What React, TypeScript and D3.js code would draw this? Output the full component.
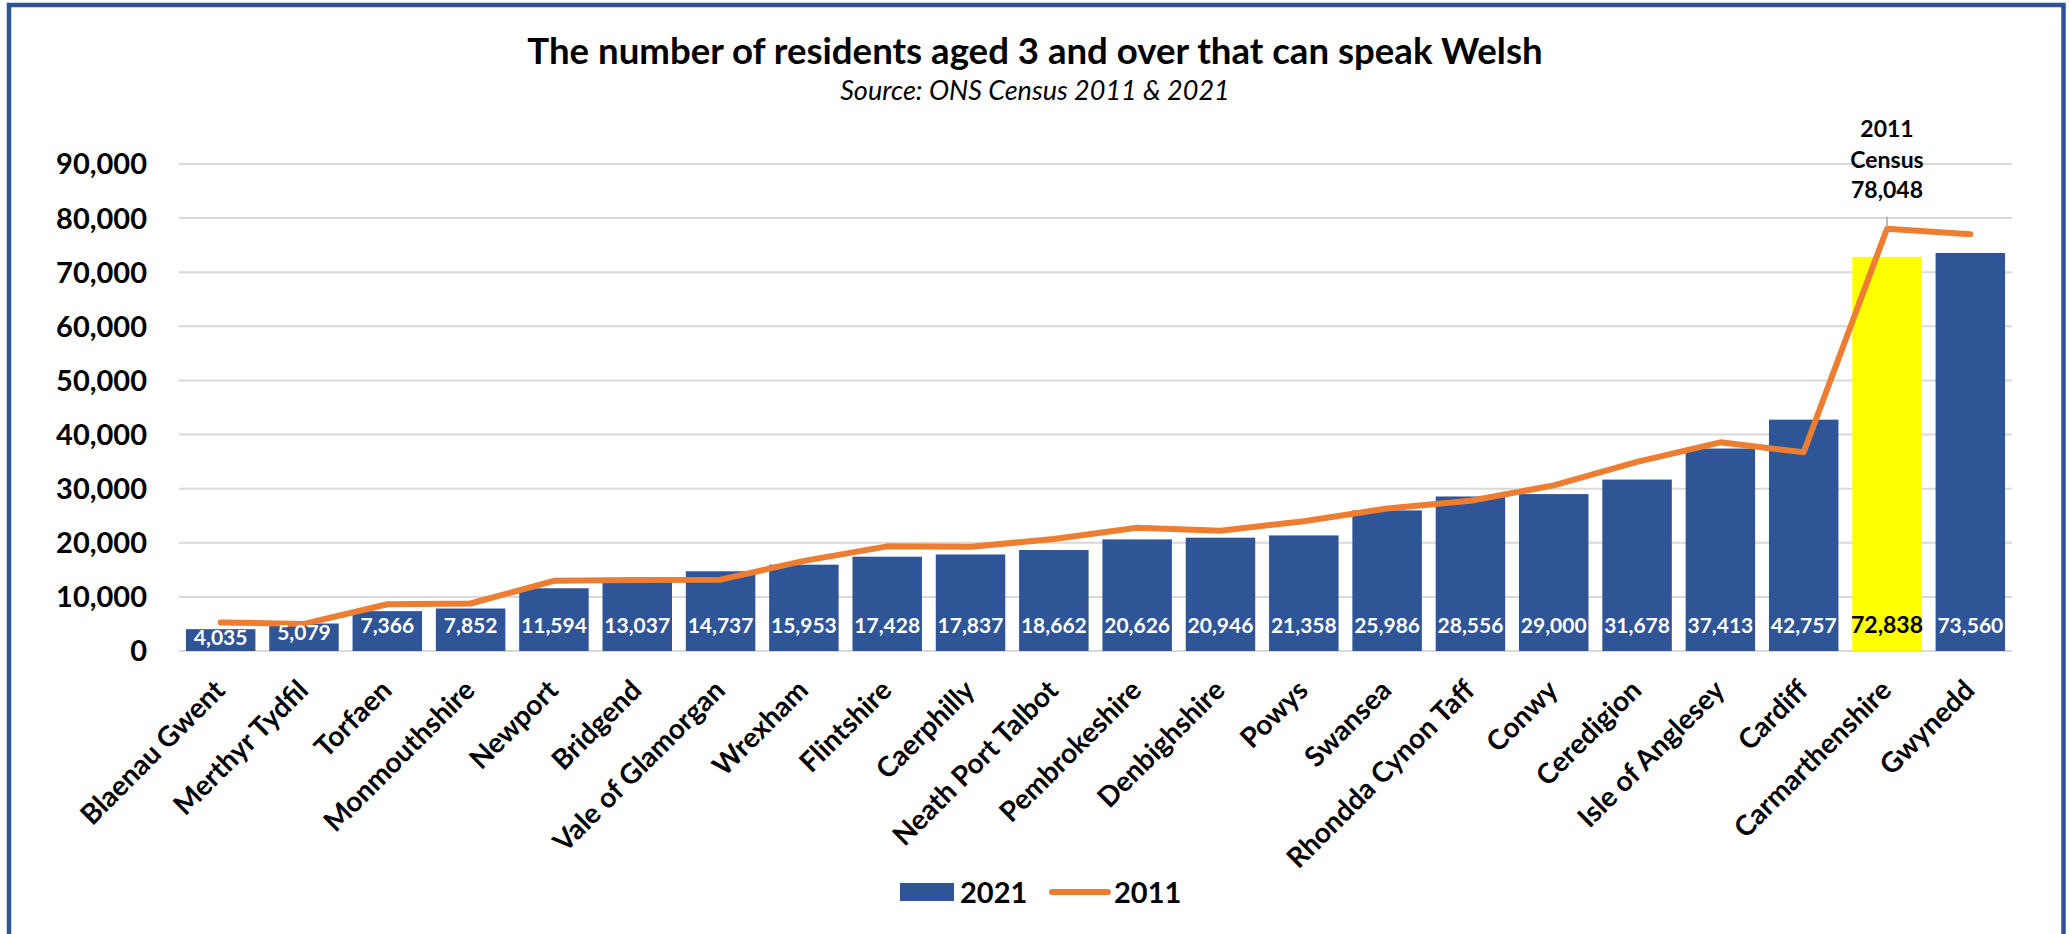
import React, { useEffect } from 'react';
import * as d3 from 'd3';

const categories = [
  'Blaenau Gwent', 'Merthyr Tydfil', 'Torfaen', 'Monmouthshire', 'Newport', 'Bridgend',
  'Vale of Glamorgan', 'Wrexham', 'Flintshire', 'Caerphilly', 'Neath Port Talbot',
  'Pembrokeshire', 'Denbighshire', 'Powys', 'Swansea', 'Rhondda Cynon Taff', 'Conwy',
  'Ceredigion', 'Isle of Anglesey', 'Cardiff', 'Carmarthenshire', 'Gwynedd',
];
const values2021 = [
  4035, 5079, 7366, 7852, 11594, 13037, 14737, 15953, 17428, 17837, 18662,
  20626, 20946, 21358, 25986, 28556, 29000, 31678, 37413, 42757, 72838, 73560,
];
const values2011 = [
  5284, 5008, 8641, 8780, 12978, 13103, 13189, 16659, 19343, 19251, 20698,
  22786, 22236, 23990, 26332, 27779, 30600, 34964, 38568, 36735, 78048, 77000,
];
const yTicks = [0, 10000, 20000, 30000, 40000, 50000, 60000, 70000, 80000, 90000];
const highlightCategory = 'Carmarthenshire';
const annotationLines = ['2011', 'Census', '78,048'];
const titleText = 'The number of residents aged 3 and over that can speak Welsh';
const subtitleText = 'Source: ONS Census 2011 & 2021';
const legendLabels = ['2021', '2011'];

const FONT = "Lato, 'Open Sans', sans-serif";
const BLUE = '#2F5597';
const ORANGE = '#ED7D31';
const YELLOW = '#FFFF00';
const GRID = '#D9D9D9';

export default function App() {
  useEffect(() => {
    document.body.style.margin = '0';
  }, []);
  const W = 2069;
  const H = 934;
  const x = d3.scaleBand<string>().domain(categories).range([179, 2012]).paddingInner(0.166).paddingOuter(0.083);
  const y = d3.scaleLinear().domain([0, 90000]).range([651, 164]);
  const fmt = d3.format(',');
  const bw = x.bandwidth();
  const cx = (c: string) => (x(c) as number) + bw / 2;
  const linePath = d3
    .line<number>()
    .x((_, i) => cx(categories[i]))
    .y((d) => y(d))(values2011) as string;

  const hiIdx = categories.indexOf(highlightCategory);
  const hiX = cx(highlightCategory);
  const hiY = y(values2011[hiIdx]);

  return (
    <svg width={W} height={H} style={{ position: 'absolute', left: 0, top: 0, background: '#fff' }} fontFamily={FONT}>
      <rect x={0} y={0} width={W} height={H} fill="#fff" />
      {/* border */}
      <rect x={9} y={5} width={2054.5} height={H + 20} fill="none" stroke={BLUE} strokeWidth={4.5} />
      {/* title */}
      <text x={1035} y={64} textAnchor="middle" fontSize={36.6} fontWeight={700} fill="#000">{titleText}</text>
      <text x={1035} y={100} textAnchor="middle" fontSize={27} fontStyle="italic" fill="#000">{subtitleText}</text>
      {/* grid + y labels */}
      {yTicks.map((t) => (
        <g key={t}>
          <line x1={179} x2={2012} y1={y(t)} y2={y(t)} stroke={GRID} strokeWidth={2} />
          <text x={147} y={y(t)} dy="0.36em" textAnchor="end" fontSize={29} fontWeight={700} fill="#000">{fmt(t)}</text>
        </g>
      ))}
      {/* bars */}
      {categories.map((c, i) => (
        <rect key={c} x={x(c)} y={y(values2021[i])} width={bw} height={y(0) - y(values2021[i])}
          fill={c === highlightCategory ? YELLOW : BLUE} />
      ))}
      {/* line */}
      <path d={linePath} fill="none" stroke={ORANGE} strokeWidth={6} strokeLinejoin="round" strokeLinecap="round" />
      {/* bar labels */}
      {categories.map((c, i) => {
        const top = y(values2021[i]);
        const base = Math.min(646, Math.max(633, top + 16));
        const hi = c === highlightCategory;
        return (
          <text key={c} x={cx(c)} y={base} textAnchor="middle" fontSize={hi ? 23 : 21} fontWeight={700}
            fill={hi ? '#000' : '#fff'}>{fmt(values2021[i])}</text>
        );
      })}
      {/* annotation */}
      <line x1={hiX} x2={hiX} y1={hiY} y2={hiY - 12} stroke="#A6A6A6" strokeWidth={1.5} />
      {annotationLines.map((t, i) => (
        <text key={t} x={hiX} y={137 + i * 30.5} textAnchor="middle" fontSize={23} fontWeight={700} fill="#000">{t}</text>
      ))}
      {/* x labels */}
      {categories.map((c) => (
        <text key={c} transform={`translate(${cx(c) + 6},692) rotate(-45)`} textAnchor="end" fontSize={28}
          fontWeight={700} fill="#000">{c}</text>
      ))}
      {/* legend */}
      <rect x={900} y={883} width={54} height={18} fill={BLUE} />
      <text x={960} y={903} fontSize={29} fontWeight={700} fill="#000">{legendLabels[0]}</text>
      <line x1={1052} x2={1108} y1={892} y2={892} stroke={ORANGE} strokeWidth={6} strokeLinecap="round" />
      <text x={1114} y={903} fontSize={29} fontWeight={700} fill="#000">{legendLabels[1]}</text>
    </svg>
  );
}
